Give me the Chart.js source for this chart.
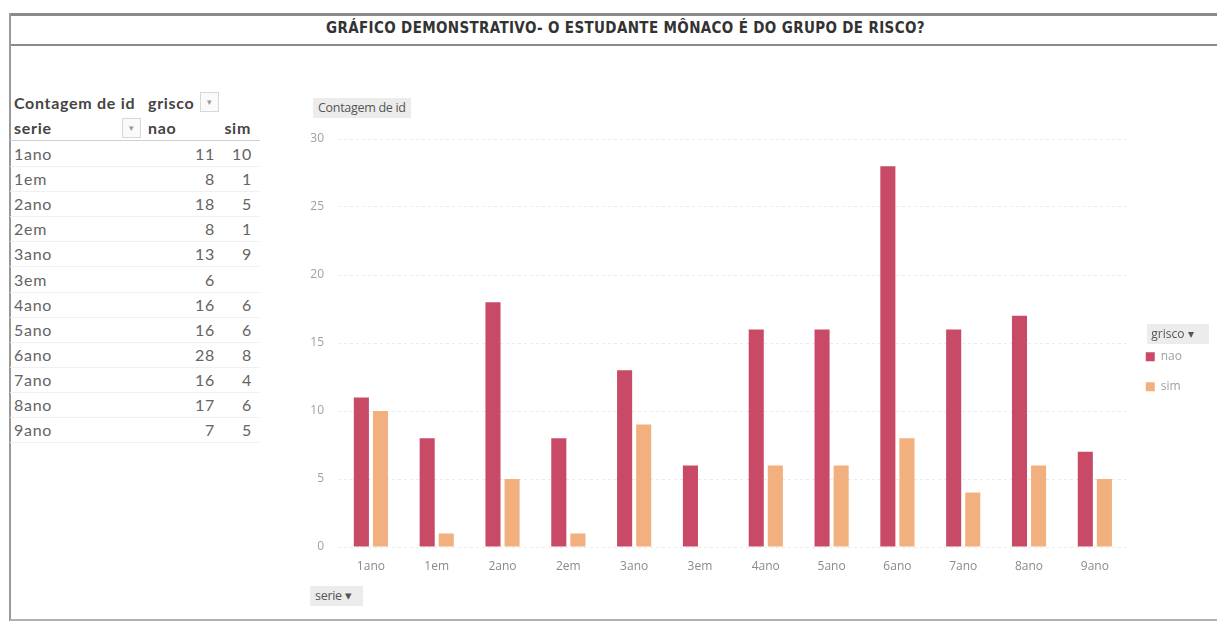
<!DOCTYPE html>
<html>
<head>
<meta charset="utf-8">
<script src="https://cdn.jsdelivr.net/npm/chart.js@4.4.1/dist/chart.umd.min.js"></script>
<style>
  html,body{margin:0;padding:0;background:#fff;}
  body{width:1217px;height:623px;position:relative;overflow:hidden;font-family:Lato,"Open Sans",sans-serif;}
  .hline{position:absolute;left:10px;right:0;background:#8a8a8a;}
  .vline{position:absolute;background:#9a9a9a;}
  #title{position:absolute;left:34px;right:0;top:19px;text-align:center;font-family:"Liberation Sans Narrow","DejaVu Sans Condensed",sans-serif;font-weight:bold;font-size:15px;color:#333;letter-spacing:0.35px;}
  #tbl{position:absolute;left:10px;top:90px;font-family:Lato,"Open Sans",sans-serif;font-size:16px;letter-spacing:0.7px;color:#646464;}
  .row{position:absolute;left:0;height:25px;line-height:25px;white-space:nowrap;}
  .cell{position:absolute;top:0;height:25px;}
  .b{font-weight:bold;color:#444;}
  .btn{position:absolute;width:17px;height:18px;border:1px solid #d8d8d8;background:#fafafa;color:#999;font-size:9px;line-height:18px;text-align:center;letter-spacing:0;}
  .lbox{position:absolute;background:#ececec;color:#555;font-family:"Open Sans",sans-serif;font-size:12.5px;line-height:20px;padding:0 5px;letter-spacing:-0.3px;}
  #wrap{position:absolute;left:290px;top:85px;width:927px;height:535px;}
</style>
</head>
<body>
<div class="hline" style="top:13px;height:3px;"></div>
<div class="hline" style="top:44px;height:2px;"></div>
<div class="vline" style="left:9px;top:13px;width:2px;height:608px;"></div>
<div class="hline" style="top:619px;height:2px;background:#b0b0b0;"></div>
<div id="title">GRÁFICO DEMONSTRATIVO- O ESTUDANTE MÔNACO É DO GRUPO DE RISCO?</div>

<div id="tbl"></div>

<div class="lbox" style="left:313px;top:98px;">Contagem de id</div>
<div class="lbox" style="left:310px;top:586px;padding:0 12px 0 5px;">serie ▾</div>
<div class="lbox" id="legbox" style="left:1147px;top:324px;width:62px;height:20px;padding:0;"></div>

<div id="wrap"><canvas id="c"></canvas></div>

<script>
const categories = ["1ano","1em","2ano","2em","3ano","3em","4ano","5ano","6ano","7ano","8ano","9ano"];
const naoValues = [11, 8, 18, 8, 13, 6, 16, 16, 28, 16, 17, 7];
const simValues = [10, 1, 5, 1, 9, null, 6, 6, 8, 4, 6, 5];
const yTicks = [0, 5, 10, 15, 20, 25, 30];
const seriesNames = ["nao", "sim"];
const tableHeader = ["Contagem de id", "grisco"];
const rowHeader = ["serie", "nao", "sim"];

// Pivot table (text)
const tbl = document.getElementById('tbl');
function addRow(top, cells, bold, border){
  const r = document.createElement('div');
  r.className = 'row';
  r.style.top = top + 'px';
  r.style.width = '250px';
  if (border) r.style.borderBottom = border;
  cells.forEach(c => {
    const d = document.createElement('div');
    d.className = 'cell' + (bold ? ' b' : '');
    d.textContent = c.t;
    if (c.right !== undefined) { d.style.right = (250 - c.right) + 'px'; }
    else d.style.left = c.left + 'px';
    r.appendChild(d);
  });
  tbl.appendChild(r);
  return r;
}
const h1 = addRow(0, [{t: tableHeader[0], left: 4}, {t: tableHeader[1], left: 138}], true);
const b1 = document.createElement('div'); b1.className='btn'; b1.style.left='190px'; b1.style.top='2px'; b1.textContent='▾'; h1.appendChild(b1);
const h2 = addRow(25, [{t: rowHeader[0], left: 4}, {t: rowHeader[1], left: 138}, {t: rowHeader[2], right: 241}], true, '1px solid #d0d0d0');
const b2 = document.createElement('div'); b2.className='btn'; b2.style.left='112px'; b2.style.top='3px'; b2.textContent='▾'; h2.appendChild(b2);
categories.forEach((c, i) => {
  addRow(51 + i * 25.1, [
    {t: c, left: 4},
    {t: naoValues[i] == null ? '' : String(naoValues[i]), right: 205},
    {t: simValues[i] == null ? '' : String(simValues[i]), right: 242}
  ], false, '1px solid #f0f0f0');
});

// widen the legend box so the plot area ends where the reference's does
const legendWiden = {
  id: 'legendWiden',
  beforeUpdate(chart) {
    const lg = chart.legend;
    if (lg && !lg._widened) {
      const orig = lg.fit;
      lg.fit = function () { orig.call(this); this.width += 25; };
      lg._widened = true;
    }
  }
};

const ctx = document.getElementById('c');
const chart = new Chart(ctx, {
  type: 'bar',
  data: {
    labels: categories,
    datasets: [
      {label: seriesNames[0], data: naoValues, backgroundColor: '#c94a66', categoryPercentage: 0.58, barPercentage: 0.79},
      {label: seriesNames[1], data: simValues, backgroundColor: '#f2b07e', categoryPercentage: 0.58, barPercentage: 0.79}
    ]
  },
  plugins: [legendWiden],
  options: {
    responsive: true,
    maintainAspectRatio: false,
    animation: false,
    layout: {padding: {top: 54, left: 0, right: 0, bottom: 20}},
    plugins: {
      tooltip: {enabled: false},
      legend: {
        position: 'right',
        align: 'center',
        title: {display: true, text: 'grisco ▾', color: '#555', font: {family: 'Open Sans', size: 12}, position: 'center', padding: {top: 0, bottom: -10}},
        labels: {boxWidth: 9, boxHeight: 9, padding: 18, color: '#a0a0a0', font: {family: 'Open Sans', size: 12}}
      }
    },
    scales: {
      x: {
        grid: {display: false},
        border: {display: false},
        ticks: {color: '#8a8a8a', font: {family: 'Open Sans', size: 12}, padding: 4},
        afterFit: s => { s.height = 53; }
      },
      y: {
        min: 0, max: 30,
        afterBuildTicks: s => { s.ticks = yTicks.map(v => ({value: v})); },
        grid: {color: '#ebebeb', drawTicks: false},
        border: {display: false, dash: [3, 3]},
        ticks: {color: '#a0a0a0', font: {family: 'Open Sans', size: 12}, padding: 14},
        afterFit: s => { s.width = 48; }
      }
    }
  }
});
</script>
</body>
</html>
